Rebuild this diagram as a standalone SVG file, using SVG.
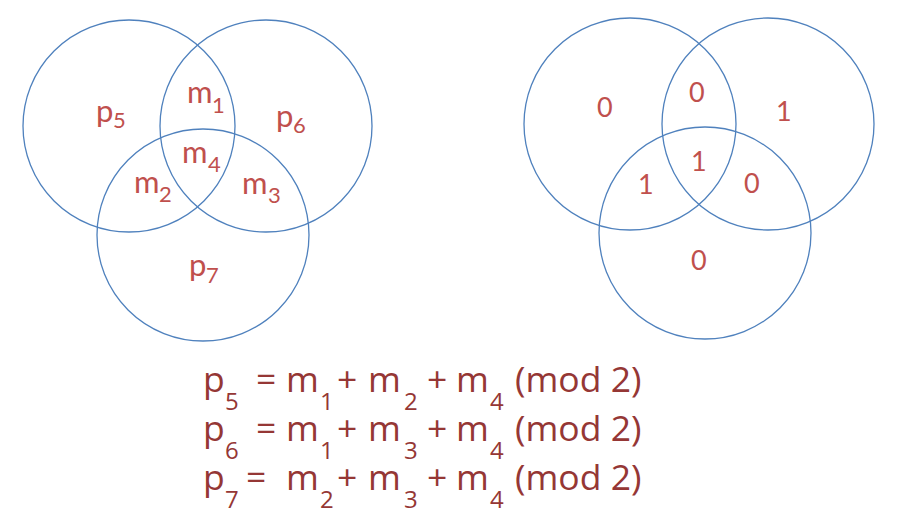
<svg xmlns="http://www.w3.org/2000/svg" width="917" height="515" viewBox="0 0 917 515">
<style>
.c{fill:none;stroke:#4F81BD;stroke-width:1.3}
.l{font-family:Lato,"Open Sans",sans-serif;fill:#C0504D;font-size:31px}
.s{font-size:22px}
.d{font-family:Lato,"Open Sans",sans-serif;fill:#C0504D;font-size:27px}
.e{font-family:"Open Sans",Lato,sans-serif;fill:#953735;font-size:35.5px}
.es{font-size:24px}
</style>
<rect width="917" height="515" fill="#fff"/>
<g id="left-venn">
<circle class="c" cx="129" cy="126" r="106"/>
<circle class="c" cx="266" cy="126" r="106"/>
<circle class="c" cx="203" cy="235" r="106"/>
<text class="l" x="96" y="122">p</text><text class="l s" x="113" y="128">5</text>
<text class="l" x="187" y="103">m</text><text class="l s" x="212" y="113">1</text>
<text class="l" x="276" y="127">p</text><text class="l s" x="293" y="133">6</text>
<text class="l" x="182" y="163">m</text><text class="l s" x="208" y="172">4</text>
<text class="l" x="134" y="193">m</text><text class="l s" x="159" y="202">2</text>
<text class="l" x="242" y="194">m</text><text class="l s" x="268" y="203">3</text>
<text class="l" x="189" y="276">p</text><text class="l s" x="206" y="283">7</text>
</g>
<g id="right-venn">
<circle class="c" cx="630" cy="124" r="106"/>
<circle class="c" cx="768" cy="124" r="106"/>
<circle class="c" cx="705" cy="233" r="106"/>
<text class="d" x="597" y="117">0</text>
<text class="d" x="689" y="102">0</text>
<text class="d" x="776" y="121">1</text>
<text class="d" x="691" y="171">1</text>
<text class="d" x="638" y="194">1</text>
<text class="d" x="744" y="193">0</text>
<text class="d" x="691" y="270">0</text>
</g>
<g id="equations">
<text class="e" x="203" y="392">p</text><text class="e es" x="225" y="410">5</text>
<text class="e" x="256" y="392">=</text>
<text class="e" x="286" y="392">m</text><text class="e es" x="320" y="410">1</text>
<text class="e" x="337" y="392">+</text>
<text class="e" x="368" y="392">m</text><text class="e es" x="404" y="410">2</text>
<text class="e" x="427" y="392">+</text>
<text class="e" x="456" y="392">m</text><text class="e es" x="490" y="410">4</text>
<text class="e" x="515" y="392">(mod 2)</text>

<text class="e" x="203" y="441">p</text><text class="e es" x="225" y="459">6</text>
<text class="e" x="256" y="441">=</text>
<text class="e" x="286" y="441">m</text><text class="e es" x="320" y="459">1</text>
<text class="e" x="337" y="441">+</text>
<text class="e" x="368" y="441">m</text><text class="e es" x="404" y="459">3</text>
<text class="e" x="427" y="441">+</text>
<text class="e" x="456" y="441">m</text><text class="e es" x="490" y="459">4</text>
<text class="e" x="515" y="441">(mod 2)</text>

<text class="e" x="203" y="490">p</text><text class="e es" x="225" y="508">7</text>
<text class="e" x="246" y="490">=</text>
<text class="e" x="286" y="490">m</text><text class="e es" x="320" y="508">2</text>
<text class="e" x="337" y="490">+</text>
<text class="e" x="368" y="490">m</text><text class="e es" x="404" y="508">3</text>
<text class="e" x="427" y="490">+</text>
<text class="e" x="456" y="490">m</text><text class="e es" x="490" y="508">4</text>
<text class="e" x="515" y="490">(mod 2)</text>
</g>
</svg>
